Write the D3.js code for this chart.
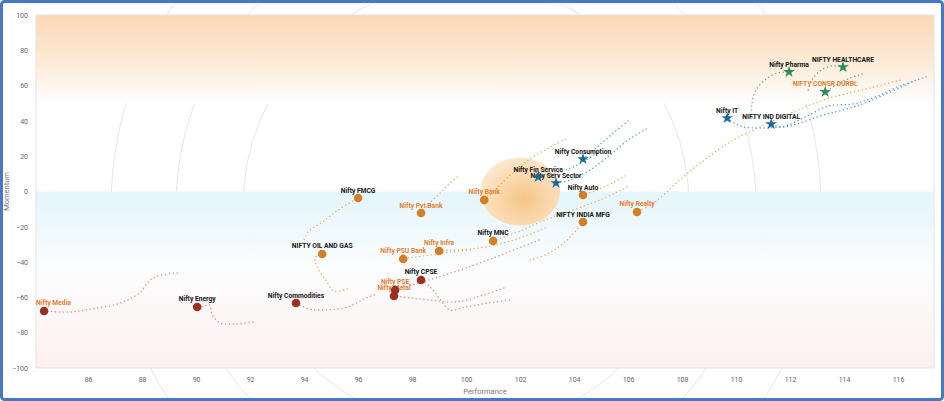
<!DOCTYPE html>
<html>
<head>
<meta charset="utf-8">
<script src="https://cdn.jsdelivr.net/npm/d3@7/dist/d3.min.js"></script>
<style>
	body { margin: 0; background: #fff; }
	svg { display: block; font-family: Roboto, "Open Sans", sans-serif; }
</style>
</head>
<body>
<svg id="chart" width="944" height="401"></svg>
<script>
// sector names, latest performance (x) and momentum (y)
const names = ['Nifty Media', 'Nifty Energy', 'Nifty Commodities', 'Nifty CPSE', 'Nifty PSE', 'Nifty Metal',
	'NIFTY OIL AND GAS', 'Nifty FMCG', 'Nifty Pvt Bank', 'Nifty PSU Bank', 'Nifty Infra', 'Nifty MNC',
	'Nifty Bank', 'Nifty Auto', 'NIFTY INDIA MFG', 'Nifty Realty', 'Nifty Consumption', 'Nifty Fin Service',
	'Nifty Serv Sector', 'Nifty IT', 'NIFTY IND DIGITAL', 'Nifty Pharma', 'NIFTY HEALTHCARE', 'NIFTY CONSR DURBL']
const perf = [84.37, 90.04, 93.70, 98.33, 97.37, 97.33, 94.67, 96.0, 98.33, 97.67, 99.0, 101.0,
	100.67, 104.33, 104.33, 106.33, 104.33, 102.67, 103.33, 109.67, 111.3, 111.96, 113.96, 113.3]
const mom = [-67.7, -65.4, -63.2, -50.1, -55.8, -59.2, -35.4, -3.7, -12.2, -38.2, -33.7, -28.0,
	-4.8, -2.0, -17.3, -11.6, 18.4, 8.2, 4.8, 41.6, 38.2, 67.7, 70.5, 56.4]
const quadrant = ['red', 'red', 'red', 'red', 'red', 'red', 'orange', 'orange', 'orange', 'orange', 'orange', 'orange',
	'orange', 'orange', 'orange', 'orange', 'blue', 'blue', 'blue', 'blue', 'blue', 'green', 'green', 'green']
const orangeLabel = [1, 0, 0, 0, 1, 1, 0, 0, 1, 1, 1, 0, 1, 0, 0, 1, 0, 0, 0, 0, 0, 0, 0, 1]

// tails: oldest point first, last point is the current one
const trails = [
	[[89.3, -46.2], [88.7, -47.3], [88.3, -50.1], [87.9, -57.5], [87.2, -63.2], [86.1, -66.6], [85.3, -68.3], [84.37, -67.7]],
	[[92.1, -73.9], [91.4, -75.1], [90.9, -74.5], [90.6, -70.0], [90.5, -64.3], [90.3, -64.9], [90.04, -65.4]],
	[[96.6, -58.5], [96.2, -61.0], [95.6, -65.5], [94.9, -67.0], [94.2, -66.6], [93.70, -63.2]],
	[[101.6, -61.5], [100.8, -63.2], [100.0, -65.4], [99.4, -67.1], [99.0, -60.3], [98.67, -54.1], [98.33, -50.1]],
	[[102.7, -27.5], [101.3, -35.9], [100.0, -43.3], [98.85, -49.0], [98.0, -52.9], [97.37, -55.8]],
	[[101.4, -54.7], [100.4, -59.8], [99.6, -62.6], [98.67, -61.5], [97.93, -60.3], [97.33, -59.2]],
	[[95.6, -55.2], [95.1, -56.4], [94.8, -50.1], [94.5, -43.3], [94.4, -37.7], [94.67, -35.4]],
	[[93.96, -29.2], [94.15, -22.9], [94.67, -17.3], [95.26, -10.5], [96.0, -3.7]],
	[[99.67, 8.2], [99.3, 3.1], [98.93, -2.5], [98.59, -7.6], [98.33, -12.2]],
	[[100.15, -33.1], [99.41, -34.3], [98.67, -36.0], [98.11, -37.1], [97.67, -38.2]],
	[[102.93, -20.7], [102.0, -26.3], [101.07, -30.3], [100.15, -32.6], [99.41, -33.1], [99.0, -33.7]],
	[[105.96, 2.5], [104.96, -4.8], [103.96, -10.5], [102.93, -16.1], [102.0, -22.4], [101.0, -28.0]],
	[[103.67, 29.7], [103.04, 24.6], [102.26, 17.3], [101.52, 7.6], [101.07, 0.8], [100.67, -4.8]],
	[[105.89, 8.8], [105.41, 4.8], [104.85, 0.8], [104.33, -2.0]],
	[[102.37, -38.8], [102.93, -36.0], [103.48, -30.8], [103.93, -24.6], [104.33, -17.3]],
	[[116.07, 63.2], [114.96, 58.6], [113.59, 53.5], [112.19, 45.6], [110.96, 37.1], [109.78, 28.0], [108.67, 16.1], [107.74, 4.2], [107.0, -5.9], [106.33, -11.6]],
	[[106.0, 39.9], [105.41, 32.6], [104.85, 25.2], [104.33, 18.4]],
	[[104.85, 21.8], [104.04, 14.4], [103.3, 10.5], [102.67, 8.2]],
	[[106.67, 35.4], [106.0, 29.2], [105.33, 20.7], [104.59, 12.2], [103.85, 6.5], [103.33, 4.8]],
	[[117.04, 64.9], [116.07, 59.8], [115.15, 53.5], [114.33, 49.6], [113.41, 48.4], [112.56, 42.2], [111.81, 37.1], [110.89, 36.0], [110.15, 37.1], [109.67, 41.6]],
	[[116.52, 62.0], [115.63, 55.8], [114.78, 50.1], [113.96, 46.2], [113.11, 42.8], [112.26, 38.2], [111.7, 36.5], [111.3, 38.2]],
	[[110.59, 41.6], [110.59, 50.1], [110.74, 57.5], [111.07, 63.2], [111.52, 67.1], [111.96, 67.7]],
	[[112.67, 57.5], [112.81, 63.2], [113.11, 68.3], [113.52, 71.1], [113.96, 70.5]],
	[[114.67, 66.6], [114.22, 64.3], [113.78, 60.9], [113.3, 56.4]]
]

const xTicks = [86, 88, 90, 92, 94, 96, 98, 100, 102, 104, 106, 108, 110, 112, 114, 116]
const yTicks = [-100, -80, -60, -40, -20, 0, 20, 40, 60, 80, 100]

const markColor = { red: '#9c3020', orange: '#d27f27', blue: '#17699b', green: '#2a8c57' }
const trailColor = { red: '#ec8478', orange: '#f1a84e', blue: '#48a0d8', green: '#5aa873' }

const plotLeft = 36, plotRight = 934, plotTop = 15, plotBottom = 368

let svg = d3.select('#chart')

let xScale = d3.scaleLinear().domain([84.07, 117.33]).range([plotLeft, plotRight])
let yScale = d3.scaleLinear().domain([-100, 100]).range([plotBottom, plotTop])

let defs = svg.append('defs')
let g1 = defs.append('linearGradient').attr('id', 'topband').attr('x1', 0).attr('y1', 0).attr('x2', 0).attr('y2', 1)
g1.append('stop').attr('offset', '0%').attr('stop-color', '#fbd8b4')
g1.append('stop').attr('offset', '55%').attr('stop-color', '#fdebd9')
g1.append('stop').attr('offset', '100%').attr('stop-color', '#ffffff')

let g2 = defs.append('linearGradient').attr('id', 'lowband').attr('x1', 0).attr('y1', 0).attr('x2', 0).attr('y2', 1)
g2.append('stop').attr('offset', '0%').attr('stop-color', '#e4f5fb')
g2.append('stop').attr('offset', '45%').attr('stop-color', '#fcfdfe')
g2.append('stop').attr('offset', '100%').attr('stop-color', '#fdf0ef')

let g3 = defs.append('radialGradient').attr('id', 'glow').attr('cx', '55%').attr('cy', '62%').attr('r', '62%')
g3.append('stop').attr('offset', '0%').attr('stop-color', '#f6c586')
g3.append('stop').attr('offset', '100%').attr('stop-color', '#fde8cd')

// faint rings behind everything
let ringG = svg.append('g')
;[223, 290, 355].forEach(r => {
	ringG.append('circle')
		.attr('cx', xScale(100))
		.attr('cy', yScale(-8))
		.attr('r', r)
		.attr('fill', 'none')
		.attr('stroke', '#e4e6ea')
		.attr('stroke-width', 1)
})

// quadrant bands
svg.append('rect')
	.attr('x', plotLeft).attr('y', yScale(100))
	.attr('width', plotRight - plotLeft).attr('height', yScale(50) - yScale(100))
	.attr('fill', 'url(#topband)')
svg.append('rect')
	.attr('x', plotLeft).attr('y', yScale(0))
	.attr('width', plotRight - plotLeft).attr('height', yScale(-100) - yScale(0))
	.attr('fill', 'url(#lowband)')

svg.append('rect')
	.attr('x', plotLeft).attr('y', plotTop)
	.attr('width', plotRight - plotLeft).attr('height', plotBottom - plotTop)
	.attr('fill', 'none')
	.attr('stroke', '#e3e3e3')

// orange glow
svg.append('ellipse')
	.attr('cx', xScale(102))
	.attr('cy', yScale(0))
	.attr('rx', 40).attr('ry', 34)
	.attr('fill', 'url(#glow)')

// axes (labels only)
let bottomAxis = d3.axisBottom(xScale).tickValues(xTicks).tickSize(0).tickPadding(9)
let bottomAxisG = svg.append('g').attr('transform', `translate(0, ${plotBottom})`).call(bottomAxis)
let leftAxis = d3.axisLeft(yScale).tickValues(yTicks).tickSize(0).tickPadding(8)
let leftAxisG = svg.append('g').attr('transform', `translate(${plotLeft}, 0)`).call(leftAxis)
;[bottomAxisG, leftAxisG].forEach(a => {
	a.select('.domain').remove()
	a.selectAll('text').attr('fill', '#666').attr('font-size', 7).attr('font-family', 'Roboto, sans-serif')
})

svg.append('text')
	.attr('x', (plotLeft + plotRight) / 2)
	.attr('y', 394)
	.attr('text-anchor', 'middle')
	.attr('font-size', 7.5)
	.attr('fill', '#777')
	.text('Performance')
svg.append('text')
	.attr('transform', `translate(9, ${yScale(0)}) rotate(-90)`)
	.attr('text-anchor', 'middle')
	.attr('font-size', 7.5)
	.attr('fill', '#777')
	.text('Momentum')

// tails
let line = d3.line()
	.x(d => xScale(d[0]))
	.y(d => yScale(d[1]))
	.curve(d3.curveCatmullRom.alpha(0.5))

svg.append('g').selectAll('path')
	.data(trails)
	.enter()
	.append('path')
	.attr('d', d => line(d))
	.attr('fill', 'none')
	.attr('stroke', (d, i) => trailColor[quadrant[i]])
	.attr('stroke-width', 1.4)
	.attr('stroke-linecap', 'round')
	.attr('stroke-dasharray', '0.1 3.8')

// labels
let labelG = svg.append('g')
names.forEach((n, i) => {
	let t = labelG.append('text')
		.attr('x', xScale(perf[i]))
		.attr('y', yScale(mom[i]) - 5.5)
		.attr('text-anchor', 'middle')
		.attr('font-size', 6.7)
		.attr('font-weight', 700)
		.attr('fill', orangeLabel[i] ? '#e67f33' : '#161616')
		.text(n)
	let w = t.node().getComputedTextLength()
	if (xScale(perf[i]) - w / 2 < plotLeft) {
		t.attr('x', plotLeft + w / 2)
	}
})

// markers
let markG = svg.append('g')
names.forEach((n, i) => {
	let q = quadrant[i]
	if (q === 'red' || q === 'orange') {
		markG.append('circle')
			.attr('cx', xScale(perf[i]))
			.attr('cy', yScale(mom[i]))
			.attr('r', 4.3)
			.attr('fill', markColor[q])
	} else {
		markG.append('path')
			.attr('d', d3.symbol(d3.symbolStar).size(42)())
			.attr('transform', `translate(${xScale(perf[i])}, ${yScale(mom[i])})`)
			.attr('fill', markColor[q])
	}
})

// blue frame
svg.append('rect')
	.attr('x', 1.5).attr('y', 1.5)
	.attr('width', 941).attr('height', 398)
	.attr('rx', 3)
	.attr('fill', 'none')
	.attr('stroke', '#4a76c6')
	.attr('stroke-width', 3)
</script>
</body>
</html>
